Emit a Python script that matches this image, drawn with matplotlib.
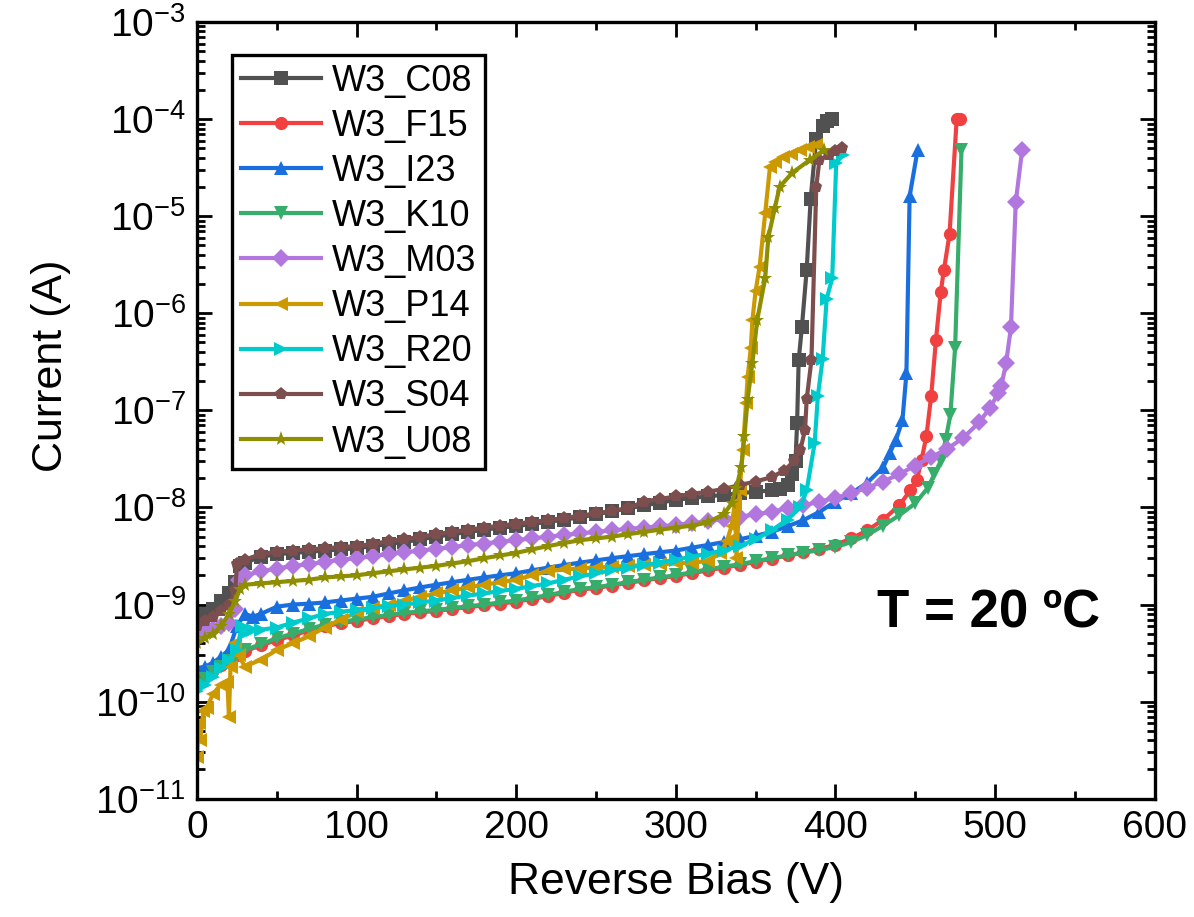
import matplotlib
matplotlib.use("Agg")
import matplotlib.pyplot as plt
from matplotlib.ticker import MultipleLocator, LogLocator, NullFormatter

# (reverse bias V, current A), one list per diode
C08 = [(0, 7e-10), (5, 8e-10), (10, 9e-10), (15, 1.1e-9), (20, 1.3e-9), (24, 1.7e-9),
       (27, 2.5e-9), (30, 2.7e-9), (40, 3.1e-9), (50, 3.3e-9), (60, 3.4e-9), (70, 3.5e-9),
       (80, 3.6e-9), (90, 3.7e-9), (100, 3.8e-9), (110, 4.0e-9), (120, 4.2e-9), (130, 4.4e-9),
       (140, 4.7e-9), (150, 5.0e-9), (160, 5.3e-9), (170, 5.6e-9), (180, 5.9e-9), (190, 6.2e-9),
       (200, 6.4e-9), (210, 6.8e-9), (220, 7.1e-9), (230, 7.5e-9), (240, 7.9e-9), (250, 8.5e-9),
       (260, 9.1e-9), (270, 9.8e-9), (280, 1.05e-8), (290, 1.12e-8), (300, 1.2e-8), (310, 1.25e-8),
       (320, 1.3e-8), (330, 1.35e-8), (340, 1.4e-8), (350, 1.45e-8), (360, 1.5e-8), (365, 1.55e-8),
       (370, 1.7e-8), (373, 2.2e-8), (375, 3e-8), (376, 7.4e-8), (377, 3.3e-7), (379, 7.2e-7),
       (382, 2.8e-6), (384.5, 1.5e-5), (388, 6.3e-5), (392, 8.5e-5), (395, 9.5e-5), (398, 1e-4)]

F15 = [(0, 1.7e-10), (5, 1.9e-10), (10, 2.1e-10), (15, 2.4e-10), (20, 2.7e-10), (25, 3e-10),
       (30, 3.3e-10), (40, 3.8e-10), (50, 4.3e-10), (60, 4.8e-10), (70, 5.4e-10), (80, 6e-10),
       (90, 6.4e-10), (100, 6.8e-10), (110, 7.2e-10), (120, 7.6e-10), (130, 8e-10), (140, 8.3e-10),
       (150, 8.6e-10), (160, 9e-10), (170, 9.4e-10), (180, 9.8e-10), (190, 1.02e-9), (200, 1.07e-9),
       (210, 1.14e-9), (220, 1.22e-9), (230, 1.32e-9), (240, 1.42e-9), (250, 1.48e-9), (260, 1.57e-9),
       (270, 1.67e-9), (280, 1.77e-9), (290, 1.87e-9), (300, 1.97e-9), (310, 2.1e-9), (320, 2.25e-9),
       (330, 2.4e-9), (340, 2.55e-9), (350, 2.75e-9), (360, 2.95e-9), (370, 3.2e-9), (380, 3.45e-9),
       (390, 3.75e-9), (400, 4.1e-9), (410, 4.8e-9), (420, 5.8e-9), (430, 7.5e-9), (440, 1.05e-8),
       (447, 1.5e-8), (451, 1.9e-8), (454, 3.1e-8), (457, 5.4e-8), (460, 1.4e-7), (463, 5.3e-7),
       (466, 1.66e-6), (468, 2.8e-6), (471.5, 6.5e-6), (476, 1e-4), (478, 1e-4)]

I23 = [(0, 2.2e-10), (5, 2.3e-10), (10, 2.5e-10), (15, 2.9e-10), (20, 3.4e-10), (25, 6e-10),
       (30, 8e-10), (35, 7.5e-10), (40, 8e-10), (50, 9.5e-10), (60, 1.0e-9), (70, 1.02e-9),
       (80, 1.05e-9), (90, 1.1e-9), (100, 1.15e-9), (110, 1.2e-9), (120, 1.3e-9), (130, 1.4e-9),
       (140, 1.5e-9), (150, 1.6e-9), (160, 1.7e-9), (170, 1.8e-9), (180, 1.9e-9), (190, 2.0e-9),
       (200, 2.1e-9), (210, 2.25e-9), (220, 2.4e-9), (230, 2.55e-9), (240, 2.7e-9), (250, 2.85e-9),
       (260, 3.0e-9), (270, 3.15e-9), (280, 3.3e-9), (290, 3.45e-9), (300, 3.6e-9), (310, 3.85e-9),
       (320, 4.1e-9), (330, 4.4e-9), (340, 4.7e-9), (350, 5.1e-9), (360, 5.6e-9), (370, 6.4e-9),
       (380, 7.4e-9), (390, 9e-9), (400, 1.15e-8), (410, 1.4e-8), (420, 1.8e-8), (430, 2.6e-8),
       (434, 3.6e-8), (438, 5e-8), (442, 7.9e-8), (444.5, 2.4e-7), (446.5, 1.6e-5), (451.5, 4.8e-5)]

K10 = [(0, 1.5e-10), (5, 1.7e-10), (10, 2e-10), (15, 2.3e-10), (20, 2.6e-10), (25, 3e-10),
       (30, 3.4e-10), (40, 3.9e-10), (50, 4.5e-10), (60, 5e-10), (70, 5.6e-10), (80, 6.2e-10),
       (90, 6.6e-10), (100, 7e-10), (110, 7.4e-10), (120, 7.8e-10), (130, 8.2e-10), (140, 8.5e-10),
       (150, 8.8e-10), (160, 9.2e-10), (170, 9.6e-10), (180, 1.0e-9), (190, 1.05e-9), (200, 1.1e-9),
       (210, 1.17e-9), (220, 1.25e-9), (230, 1.35e-9), (240, 1.45e-9), (250, 1.5e-9), (260, 1.6e-9),
       (270, 1.7e-9), (280, 1.8e-9), (290, 1.9e-9), (300, 2.0e-9), (310, 2.15e-9), (320, 2.3e-9),
       (330, 2.45e-9), (340, 2.6e-9), (350, 2.8e-9), (360, 3.0e-9), (370, 3.2e-9), (380, 3.4e-9),
       (390, 3.65e-9), (400, 3.9e-9), (410, 4.4e-9), (420, 5.2e-9), (430, 6.5e-9), (440, 8.3e-9),
       (450, 1.1e-8), (458, 1.6e-8), (462, 2.2e-8), (466, 3e-8), (469, 4.9e-8), (472, 8.9e-8),
       (475, 4.4e-7), (479, 4.8e-5)]

M03 = [(0, 5e-10), (5, 5.3e-10), (10, 5.6e-10), (15, 6e-10), (20, 6.5e-10), (24, 9e-10),
       (26, 1.8e-9), (30, 2.0e-9), (40, 2.2e-9), (50, 2.35e-9), (60, 2.5e-9), (70, 2.6e-9),
       (80, 2.75e-9), (90, 2.9e-9), (100, 3.0e-9), (110, 3.15e-9), (120, 3.3e-9), (130, 3.45e-9),
       (140, 3.6e-9), (150, 3.75e-9), (160, 3.9e-9), (170, 4.1e-9), (180, 4.25e-9), (190, 4.45e-9),
       (200, 4.6e-9), (210, 4.8e-9), (220, 5.0e-9), (230, 5.2e-9), (240, 5.4e-9), (250, 5.6e-9),
       (260, 5.8e-9), (270, 6.0e-9), (280, 6.2e-9), (290, 6.4e-9), (300, 6.6e-9), (310, 6.9e-9),
       (320, 7.2e-9), (330, 7.6e-9), (340, 8.0e-9), (350, 8.5e-9), (360, 9.0e-9), (370, 9.8e-9),
       (380, 1.05e-8), (390, 1.15e-8), (400, 1.25e-8), (410, 1.4e-8), (420, 1.6e-8), (430, 1.85e-8),
       (440, 2.2e-8), (450, 2.7e-8), (460, 3.3e-8), (470, 4.0e-8), (480, 5.2e-8), (490, 7.5e-8),
       (497, 1.07e-7), (502, 1.5e-7), (504, 1.8e-7), (507, 3.1e-7), (510, 7.2e-7), (513, 1.4e-5),
       (517, 4.8e-5)]

P14 = [(0, 2.7e-11), (1, 6e-11), (2, 4e-11), (4, 8e-11), (6, 8.5e-11), (10, 1.2e-10),
       (15, 1.5e-10), (19, 1.6e-10), (20, 7e-11), (21, 2.3e-10), (24, 4e-10), (26, 3e-10),
       (30, 2.3e-10), (40, 2.7e-10), (50, 3.4e-10), (60, 4e-10), (70, 4.7e-10), (80, 5.8e-10),
       (90, 7e-10), (100, 8.3e-10), (110, 9.2e-10), (120, 1.0e-9), (130, 1.1e-9), (140, 1.2e-9),
       (150, 1.3e-9), (160, 1.4e-9), (170, 1.5e-9), (180, 1.6e-9), (190, 1.7e-9), (200, 1.8e-9),
       (210, 2.0e-9), (220, 2.2e-9), (230, 2.3e-9), (240, 2.35e-9), (250, 2.4e-9), (260, 2.45e-9),
       (270, 2.5e-9), (280, 2.55e-9), (290, 2.6e-9), (300, 2.65e-9), (310, 2.7e-9), (320, 2.8e-9),
       (328, 3.4e-9), (332, 4.5e-9), (335, 6.5e-9), (337, 1.1e-8), (338, 3e-9), (340, 1.5e-8),
       (342, 3.9e-8), (344, 1.2e-7), (345, 2.2e-7), (347, 4.4e-7), (348, 8.5e-7), (350, 1.7e-6),
       (352.5, 3e-6), (356, 1.07e-5), (359, 3.2e-5), (362, 3.6e-5), (367, 4.1e-5), (372, 4.4e-5),
       (378, 4.8e-5), (383, 5.1e-5), (388, 5.4e-5)]

R20 = [(0, 1.3e-10), (5, 1.5e-10), (10, 1.8e-10), (15, 2.2e-10), (20, 2.7e-10), (25, 3.4e-10),
       (28, 6e-10), (32, 5.2e-10), (35, 5.5e-10), (40, 5.5e-10), (50, 5.8e-10), (60, 6.5e-10),
       (70, 7.2e-10), (80, 8e-10), (90, 8.4e-10), (100, 8.8e-10), (110, 9.2e-10), (120, 9.6e-10),
       (130, 1.0e-9), (140, 1.05e-9), (150, 1.1e-9), (160, 1.17e-9), (170, 1.24e-9), (180, 1.3e-9),
       (190, 1.38e-9), (200, 1.45e-9), (210, 1.55e-9), (220, 1.65e-9), (230, 1.8e-9), (240, 1.95e-9),
       (250, 2.1e-9), (260, 2.25e-9), (270, 2.4e-9), (280, 2.55e-9), (290, 2.7e-9), (300, 2.9e-9),
       (310, 3.1e-9), (320, 3.35e-9), (330, 3.6e-9), (340, 4.0e-9), (350, 4.7e-9), (360, 5.8e-9),
       (370, 7.5e-9), (378, 1e-8), (382, 1.5e-8), (387, 4.6e-8), (389, 1.4e-7), (392, 3.4e-7),
       (394.5, 1.4e-6), (398, 2.3e-6), (400.5, 3.5e-5), (404.5, 4.3e-5)]

S04 = [(0, 6e-10), (5, 6.8e-10), (10, 7.5e-10), (15, 8.5e-10), (20, 1e-9), (24, 1.4e-9),
       (25, 2.6e-9), (30, 2.9e-9), (40, 3.3e-9), (50, 3.5e-9), (60, 3.6e-9), (70, 3.7e-9),
       (80, 3.8e-9), (90, 3.9e-9), (100, 4.0e-9), (110, 4.2e-9), (120, 4.5e-9), (130, 4.7e-9),
       (140, 5.0e-9), (150, 5.3e-9), (160, 5.6e-9), (170, 5.9e-9), (180, 6.2e-9), (190, 6.5e-9),
       (200, 6.8e-9), (210, 7.1e-9), (220, 7.4e-9), (230, 7.8e-9), (240, 8.2e-9), (250, 8.7e-9),
       (260, 9.2e-9), (270, 9.8e-9), (280, 1.15e-8), (290, 1.22e-8), (300, 1.3e-8), (310, 1.38e-8),
       (320, 1.45e-8), (330, 1.55e-8), (340, 1.7e-8), (350, 1.85e-8), (360, 2.05e-8), (368, 2.4e-8),
       (374, 3.0e-8), (378, 3.9e-8), (381, 6.3e-8), (382, 1.3e-7), (385, 3.3e-7), (388, 2e-5),
       (390, 3.8e-5), (396, 4.3e-5), (400, 4.7e-5), (404, 5e-5)]

U08 = [(0, 4e-10), (5, 4.5e-10), (10, 5e-10), (15, 6e-10), (20, 8e-10), (24, 1.1e-9),
       (27, 1.45e-9), (30, 1.6e-9), (40, 1.65e-9), (50, 1.7e-9), (60, 1.75e-9), (70, 1.8e-9),
       (80, 1.9e-9), (90, 1.95e-9), (100, 2.0e-9), (110, 2.1e-9), (120, 2.2e-9), (130, 2.3e-9),
       (140, 2.4e-9), (150, 2.5e-9), (160, 2.65e-9), (170, 2.8e-9), (180, 3.0e-9), (190, 3.2e-9),
       (200, 3.4e-9), (210, 3.7e-9), (220, 4.0e-9), (230, 4.3e-9), (240, 4.6e-9), (250, 4.8e-9),
       (260, 5.0e-9), (270, 5.3e-9), (280, 5.6e-9), (290, 5.9e-9), (300, 6.2e-9), (310, 6.5e-9),
       (320, 7.0e-9), (330, 8.5e-9), (335, 1.1e-8), (338, 1.6e-8), (341, 2.6e-8), (343, 5.4e-8),
       (345, 1.3e-7), (348, 3.1e-7), (351, 8.5e-7), (356, 2.3e-6), (358, 6.1e-6), (362, 1.2e-5),
       (365, 2e-5), (373, 2.8e-5), (384, 3.8e-5), (393, 4.8e-5)]

names = ["W3_C08", "W3_F15", "W3_I23", "W3_K10", "W3_M03", "W3_P14", "W3_R20", "W3_S04", "W3_U08"]
series = [C08, F15, I23, K10, M03, P14, R20, S04, U08]
colors = ["#515151", "#F14040", "#1A6FDF", "#37AD6B", "#B177DE", "#CC9900", "#00CBCC", "#7D4E4E", "#8E8E00"]
markers = ["s", "o", "^", "v", "D", "<", ">", "p", "*"]

plt.rcParams['font.family'] = ['Liberation Sans', 'DejaVu Sans']
plt.rcParams['mathtext.fontset'] = 'custom'
plt.rcParams['mathtext.rm'] = 'Liberation Sans'

fig = plt.figure(figsize=(11.94, 9.17), dpi=100)
ax = fig.add_axes([0.165, 0.129, 0.802, 0.847])

for name, data, color, marker in zip(names, series, colors, markers):
    v = [p[0] for p in data]
    cur = [p[1] for p in data]
    ms = 11 if marker == "*" else 9.5
    ax.plot(v, cur, color=color, marker=marker, markersize=ms, linewidth=3,
            markeredgewidth=0, label=name)

ax.set_yscale("log")
ax.set_xlim(0, 600)
ax.set_ylim(1e-11, 1e-3)

ax.xaxis.set_major_locator(MultipleLocator(100))
ax.xaxis.set_minor_locator(MultipleLocator(50))
ax.yaxis.set_major_locator(LogLocator(base=10, numticks=20))
ax.yaxis.set_minor_locator(LogLocator(base=10, subs=range(2, 10), numticks=20))
ax.yaxis.set_minor_formatter(NullFormatter())

ax.tick_params(which="both", direction="in", top=True, right=True, width=2)
ax.tick_params(which="major", length=11, labelsize=28, pad=8)
ax.tick_params(which="minor", length=6)
for s in ax.spines.values():
    s.set_linewidth(2.4)

ax.set_xlabel("Reverse Bias (V)", fontsize=32, labelpad=12)
ax.set_ylabel("Current (A)", fontsize=31)
ax.yaxis.set_label_coords(-0.132, 0.557)

ax.text(0.827, 0.239, "T = 20 ºC", transform=ax.transAxes, fontsize=38,
        fontweight="bold", ha="center", va="center")

leg = ax.legend(loc="upper left", bbox_to_anchor=(0.037, 0.958), borderaxespad=0,
                fontsize=26, numpoints=1, handlelength=2.2, handletextpad=0.3,
                labelspacing=0.28, borderpad=0.25, fancybox=False, framealpha=1)
leg.get_frame().set_edgecolor("black")
leg.get_frame().set_linewidth(2.4)

fig.savefig("out.png", dpi=100)
